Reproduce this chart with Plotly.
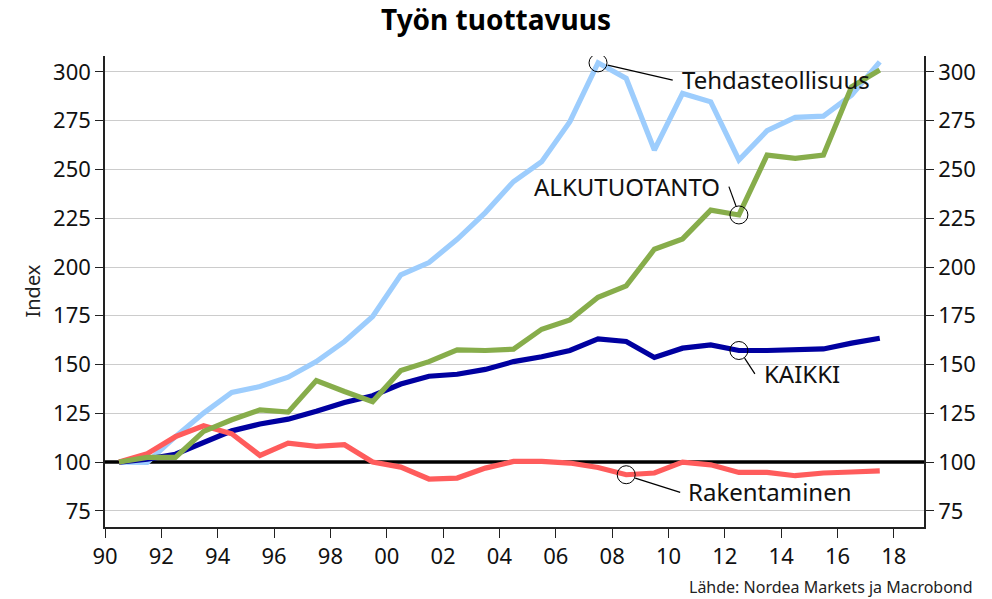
import plotly.graph_objects as go

years = [1990, 1991, 1992, 1993, 1994, 1995, 1996, 1997, 1998, 1999,
         2000, 2001, 2002, 2003, 2004, 2005, 2006, 2007, 2008, 2009,
         2010, 2011, 2012, 2013, 2014, 2015, 2016, 2017]

tehdas = [100, 99.8, 113, 125.1, 135.7, 138.7, 143.5, 151.5, 161.8, 174.6,
          196, 202.3, 214.2, 227.9, 243.8, 254, 274.5, 304.7, 296.7, 260,
          289, 284.7, 254.9, 269.9, 276.7, 277.4, 288.2, 305.2]
alku = [100, 102.4, 102.4, 115.7, 121.7, 126.8, 125.6, 141.8, 136.2, 131,
        146.9, 151.5, 157.5, 157.2, 157.9, 168.1, 172.9, 184.5, 190.3, 209.1,
        214.4, 229.2, 226.7, 257.4, 255.7, 257.4, 292.4, 301]
kaikki = [100, 101.5, 104, 110, 116, 119.5, 122, 126, 130.5, 134,
          140, 144, 145, 147.5, 151.5, 154, 157.2, 163.2, 161.8, 153.6,
          158.4, 160.1, 157.2, 157.2, 157.6, 158, 161, 163.5]
raken = [100, 104.3, 113, 118.6, 114.5, 103.4, 109.7, 108, 108.9, 100,
         97.4, 91.3, 91.8, 96.9, 100.3, 100.3, 99.5, 97.2, 93.5, 94.4,
         100, 98.6, 94.7, 94.7, 93, 94.4, 94.9, 95.5]

tick_years = [1990, 1992, 1994, 1996, 1998, 2000, 2002, 2004, 2006, 2008,
              2010, 2012, 2014, 2016, 2018]
tick_text = ["90", "92", "94", "96", "98", "00", "02", "04", "06", "08",
             "10", "12", "14", "16", "18"]
y_ticks = [75, 100, 125, 150, 175, 200, 225, 250, 275, 300]
baseline = 100

title = "Työn tuottavuus"
source = "Lähde: Nordea Markets ja Macrobond"

x = [yr + 0.5 for yr in years]
x_range = [1990, 2019.07]
y_range = [66.7, 308.2]

FONT = "Noto Sans"
fig = go.Figure()

# baseline reference line (under the series)
fig.add_trace(go.Scatter(x=x_range, y=[baseline, baseline], mode="lines",
                         line=dict(color="black", width=3.5), showlegend=False,
                         hoverinfo="skip"))

series = [
    ("Tehdasteollisuus", tehdas, "#9dcdfd"),
    ("KAIKKI", kaikki, "#0000a0"),
    ("Rakentaminen", raken, "#ff5c5c"),
    ("ALKUTUOTANTO", alku, "#87ad4b"),
]
for name, vals, col in series:
    fig.add_trace(go.Scatter(x=x, y=vals, mode="lines", name=name,
                             line=dict(color=col, width=5.2), showlegend=False,
                             hoverinfo="skip"))
# invisible trace for right axis
fig.add_trace(go.Scatter(x=x, y=kaikki, yaxis="y2", mode="lines",
                         line=dict(width=0), opacity=0, showlegend=False,
                         hoverinfo="skip"))

fig.update_layout(
    width=992, height=599,
    margin=dict(l=105, r=68, t=56, b=72),
    plot_bgcolor="white", paper_bgcolor="white",
    font=dict(family=FONT, color="#111", size=22),
    title=dict(text="<b>" + title + "</b>", x=0.5, xref="container", xanchor="center",
               y=1 - 20 / 599, yref="container", yanchor="middle",
               font=dict(family=FONT, size=28, color="#000")),
    xaxis=dict(range=x_range, tickvals=tick_years, ticktext=tick_text,
               showgrid=False, zeroline=False, showline=True, linecolor="#222",
               linewidth=1.5, ticks="outside", ticklen=9, tickcolor="#222",
               tickfont=dict(size=22)),
    yaxis=dict(range=y_range, tickvals=y_ticks, showgrid=True, gridcolor="#cccccc",
               gridwidth=1, zeroline=False, showline=True, linecolor="#222",
               linewidth=1.5, ticks="outside", ticklen=8, tickcolor="#222",
               tickfont=dict(size=22)),
    yaxis2=dict(range=y_range, tickvals=y_ticks, overlaying="y", side="right",
                showgrid=False, zeroline=False, showline=True, linecolor="#222",
                linewidth=1.5, ticks="outside", ticklen=8, tickcolor="#222",
                tickfont=dict(size=22)),
)

labels = [
    (17, tehdas, "Tehdasteollisuus", 82, -17, "left", (9.7, -2.3, 74.7, -17.3)),
    (22, alku, "ALKUTUOTANTO", -17, 28, "right", (-10, 28.3, -2.7, 8.3)),
    (22, kaikki, "KAIKKI", 23, -23, "left", (5.7, -7.7, 16, -23.4)),
    (18, raken, "Rakentaminen", 60, -17, "left", (9, -3.4, 54, -17.7)),
]
for i, vals, txt, dx, dy, anc, (lx0, ly0, lx1, ly1) in labels:
    px, py = x[i], vals[i]
    fig.add_shape(type="circle", xref="x", yref="y", xsizemode="pixel", ysizemode="pixel",
                  xanchor=px, yanchor=py, x0=-9, x1=9, y0=-9, y1=9,
                  line=dict(color="black", width=1), fillcolor="rgba(0,0,0,0)")
    fig.add_shape(type="line", xref="x", yref="y", xsizemode="pixel", ysizemode="pixel",
                  xanchor=px, yanchor=py, x0=lx0, x1=lx1, y0=ly0, y1=ly1,
                  line=dict(color="black", width=1.2))
    fig.add_annotation(x=px, y=py, xref="x", yref="y", text=txt, showarrow=False,
                       xanchor=anc, yanchor="middle", xshift=dx, yshift=dy,
                       font=dict(family=FONT, size=24, color="#111"))

fig.add_annotation(text="Index", xref="paper", yref="paper", x=-0.0891, y=0.5,
                   textangle=-90, showarrow=False, xanchor="center", yanchor="middle",
                   font=dict(family=FONT, size=20, color="#222"))
fig.add_annotation(text=source, xref="paper", yref="paper", x=1.0623, y=-0.1266,
                   showarrow=False, xanchor="right", yanchor="middle",
                   font=dict(family=FONT, size=16, color="#222"))

fig.write_html("out.html", config={"displayModeBar": False},
               post_script="document.body.style.margin='0';")
